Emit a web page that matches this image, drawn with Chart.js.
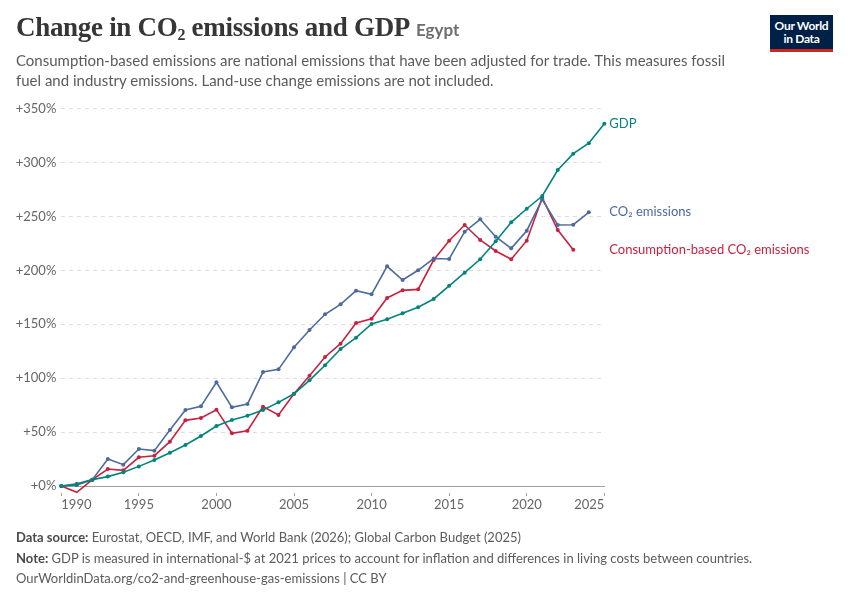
<!DOCTYPE html>
<html>
<head>
<meta charset="utf-8">
<script src="https://cdn.jsdelivr.net/npm/chart.js@4/dist/chart.umd.min.js"></script>
<style>
  html, body { margin: 0; padding: 0; background: #fff; }
  body { width: 850px; height: 600px; position: relative; overflow: hidden; font-family: Lato, "Noto Sans", sans-serif; }
  #chart { position: absolute; left: 0; top: 0; }
  #title { position: absolute; left: 16px; top: 12px; font-family: "Liberation Serif", "DejaVu Serif", serif; font-weight: bold; font-size: 27px; color: #363636; white-space: nowrap; letter-spacing: -0.3px; }
  #title sub { font-size: 16px; vertical-align: -4px; line-height: 0; }
  #title .ent { font-family: Lato, sans-serif; font-weight: bold; font-size: 17px; color: #6e6e6e; margin-left: 6px; letter-spacing: 0; }
  #subtitle { position: absolute; left: 16px; top: 51px; width: 727px; font-size: 15px; line-height: 19.5px; color: #5b5b5b; }
  #footer { position: absolute; left: 16px; top: 527px; font-size: 13px; line-height: 20.5px; color: #5b5b5b; white-space: nowrap; }
  #footer b { font-weight: bold; color: #4a4a4a; }
  #logo { position: absolute; left: 770px; top: 15px; width: 63px; height: 37px; background: #002147; color: #fff; font-weight: bold; font-size: 12px; line-height: 13px; text-align: center; box-sizing: border-box; padding-top: 4px; border-bottom: 3px solid #ce261e; letter-spacing: -0.3px; }
</style>
</head>
<body>
<canvas id="chart" width="850" height="600"></canvas>
<div id="title">Change in CO<sub>2</sub> emissions and GDP<span class="ent">Egypt</span></div>
<div id="subtitle">Consumption-based emissions are national emissions that have been adjusted for trade. This measures fossil fuel and industry emissions. Land-use change emissions are not included.</div>
<div id="logo">Our World<br>in Data</div>
<div id="footer">
  <div><b>Data source:</b> Eurostat, OECD, IMF, and World Bank (2026); Global Carbon Budget (2025)</div>
  <div><b>Note:</b> GDP is measured in international-$ at 2021 prices to account for inflation and differences in living costs between countries.</div>
  <div>OurWorldinData.org/co2-and-greenhouse-gas-emissions | CC BY</div>
</div>
<script>
// ---- Data ----
const years = [1990,1991,1992,1993,1994,1995,1996,1997,1998,1999,2000,2001,2002,2003,2004,2005,2006,2007,2008,2009,2010,2011,2012,2013,2014,2015,2016,2017,2018,2019,2020,2021,2022,2023,2024,2025];
const gdpChange = [0, 1, 5.9, 8.7, 12.7, 18.2, 24.1, 30.9, 38, 46.4, 55.7, 61.2, 65.2, 70.5, 77.6, 85.6, 98, 112, 127.1, 137.6, 150.3, 154.6, 160.2, 165.8, 173.5, 185.7, 197.9, 210.3, 227, 244.6, 257.2, 269, 293.1, 308.3, 318, 336.1];
const co2Change = [0, 2, 5.9, 25, 19.8, 34.3, 32.8, 52, 70.5, 73.9, 96.2, 73, 76, 105.7, 108.2, 128.7, 144.7, 159.3, 168.5, 181.2, 177.8, 203.8, 191.1, 200.1, 211, 210.6, 235.9, 247.4, 231.3, 220.5, 236.8, 265.9, 242.1, 242.4, 253.9];
const consumptionCo2Change = [0, -5.8, 5.9, 15.8, 14.5, 26.6, 28.1, 41.1, 60.9, 63.1, 70.8, 48.9, 51.3, 73.6, 65.9, 85.5, 102.2, 119.7, 132, 151.2, 155.2, 174.4, 181.5, 182.4, 209.6, 227.5, 242.1, 228.2, 218, 210.3, 227.6, 267.4, 237.5, 219.2];
const seriesNames = ["GDP", "CO₂ emissions", "Consumption-based CO₂ emissions"];
const yTicks = [0, 50, 100, 150, 200, 250, 300, 350];
const xTicks = [1990, 1995, 2000, 2005, 2010, 2015, 2020, 2025];

const colors = ["#00847e", "#4c6a9c", "#c8213f"];
const toPoints = vals => vals.map((v, i) => ({ x: years[i], y: v }));

const endLabels = {
  id: 'endLabels',
  afterDatasetsDraw(chart) {
    const ctx = chart.ctx;
    chart.data.datasets.forEach((ds, i) => {
      const meta = chart.getDatasetMeta(i);
      const pt = meta.data[meta.data.length - 1];
      ctx.save();
      ctx.fillStyle = ds.borderColor;
      ctx.font = '13px Lato, sans-serif';
      ctx.textBaseline = 'middle';
      ctx.textAlign = 'left';
      ctx.fillText(ds.label, chart.chartArea.right + 5, pt.y);
      ctx.restore();
    });
  }
};

const mk = (i, vals) => ({
  label: seriesNames[i],
  data: toPoints(vals),
  borderColor: colors[i],
  backgroundColor: colors[i],
  borderWidth: 1.6,
  pointRadius: 2,
  pointBorderWidth: 0,
  pointBackgroundColor: colors[i],
  tension: 0,
  clip: false
});

new Chart(document.getElementById('chart'), {
  type: 'line',
  data: { datasets: [mk(0, gdpChange), mk(1, co2Change), mk(2, consumptionCo2Change)] },
  options: {
    responsive: false,
    animation: false,
    devicePixelRatio: 1,
    layout: { padding: { top: 108.7, right: 245.7, left: 0, bottom: 84 } },
    plugins: { legend: { display: false }, tooltip: { enabled: false } },
    scales: {
      x: {
        type: 'linear', min: 1990, max: 2025,
        afterFit: s => { s.height = 30; },
        afterBuildTicks: s => { s.ticks = xTicks.map(v => ({ value: v })); },
        ticks: { align: 'inner', color: '#666', font: { family: 'Lato', size: 13 }, padding: 1, maxRotation: 0, callback: v => String(v) },
        grid: { drawOnChartArea: false, drawTicks: true, tickLength: 10, tickColor: '#a0a0a0', tickBorderDash: [0, 6, 5, 30] },
        border: { display: true, color: '#a0a0a0', width: 1 }
      },
      y: {
        min: 0, max: 350,
        afterFit: s => { s.width = 61.3; },
        afterBuildTicks: s => { s.ticks = yTicks.map(v => ({ value: v })); },
        ticks: { color: '#666', font: { family: 'Lato', size: 13 }, padding: 5, callback: v => '+' + v + '%' },
        grid: { drawTicks: false, color: ctx => ctx.tick && ctx.tick.value === 0 ? 'rgba(0,0,0,0)' : '#dddddd', lineWidth: 1 },
        border: { display: false, dash: [4, 4] }
      }
    }
  },
  plugins: [endLabels]
});
</script>
</body>
</html>
